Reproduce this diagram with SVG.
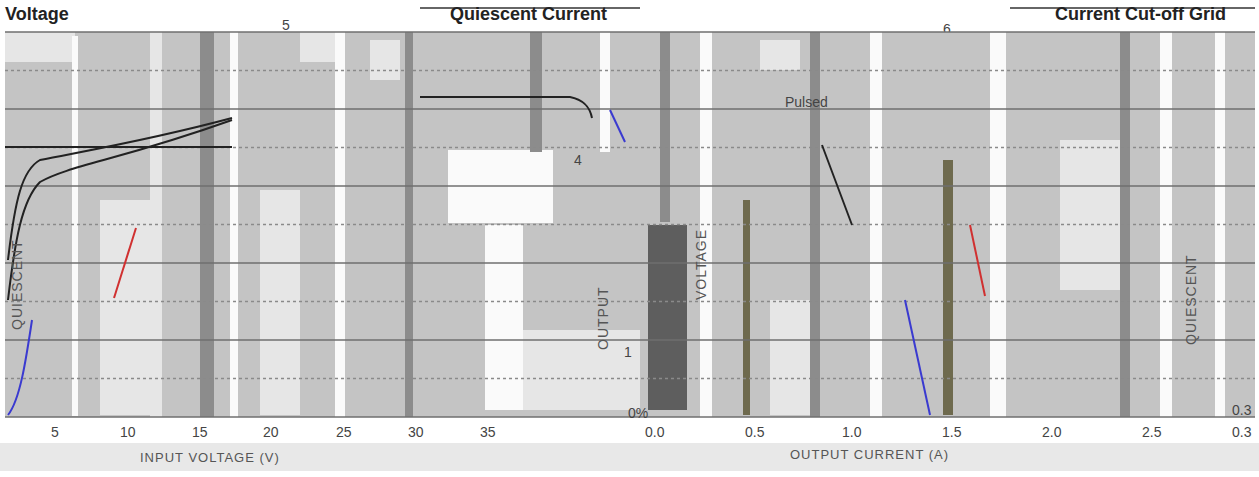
<svg xmlns="http://www.w3.org/2000/svg" width="1259" height="477" viewBox="0 0 1259 477">
<style>
.title{font:bold 18px "Liberation Sans",Arial,sans-serif;fill:#222}
.tick{font:14px "Liberation Sans",Arial,sans-serif;fill:#444}
.axis{font:13px "Liberation Sans",Arial,sans-serif;fill:#555;letter-spacing:1px}
.ylab{font:14px "Liberation Sans",Arial,sans-serif;fill:#555;letter-spacing:1px}
.gs{stroke:#6f6f6f;stroke-width:1.6}
.gd{stroke:#8a8a8a;stroke-width:1.4;stroke-dasharray:3 3}
.lt{fill:#e6e6e6}
.wh{fill:#fafafa}
.dk{fill:#8c8c8c}
.dd{fill:#5e5e5e}
.ol{fill:#6e6a4e}
.curve{fill:none;stroke-width:2}
</style>
<rect width="1259" height="477" fill="#fff"/>
<g id="titles">
<text class="title" x="5" y="20">Voltage</text>
<line x1="420" y1="8" x2="640" y2="8" stroke="#333" stroke-width="1.5"/>
<text class="title" x="450" y="20">Quiescent Current</text>
<line x1="1010" y1="8" x2="1255" y2="8" stroke="#333" stroke-width="1.5"/>
<text class="title" x="1055" y="20">Current Cut-off Grid</text>
<text class="tick" x="282" y="30">5</text>
<text class="tick" x="943" y="34">6</text>
</g>
<g id="plot-background">
<rect x="5" y="32" width="1250" height="385" fill="#c4c4c4"/>
<rect class="lt" x="5" y="32" width="70" height="30"/>
<rect class="wh" x="72" y="36" width="6" height="380"/>
<rect class="lt" x="100" y="200" width="50" height="215"/>
<rect class="lt" x="150" y="32" width="12" height="385"/>
<rect class="dk" x="200" y="32" width="14" height="385"/>
<rect class="wh" x="230" y="32" width="8" height="385"/>
<rect class="lt" x="260" y="190" width="40" height="225"/>
<rect class="lt" x="300" y="32" width="40" height="30"/>
<rect class="wh" x="335" y="32" width="10" height="385"/>
<rect class="lt" x="370" y="40" width="30" height="40"/>
<rect class="dk" x="405" y="32" width="8" height="385"/>
<rect class="wh" x="448" y="150" width="105" height="73"/>
<rect class="wh" x="485" y="225" width="38" height="185"/>
<rect class="lt" x="523" y="330" width="117" height="80"/>
<rect class="dk" x="530" y="32" width="12" height="120"/>
<rect class="wh" x="600" y="32" width="10" height="120"/>
<rect class="dd" x="648" y="225" width="39" height="185"/>
<rect class="dk" x="660" y="32" width="10" height="190"/>
<rect class="wh" x="700" y="32" width="12" height="385"/>
<rect class="ol" x="743" y="200" width="7" height="215"/>
<rect class="lt" x="760" y="40" width="40" height="30"/>
<rect class="lt" x="770" y="300" width="40" height="115"/>
<rect class="dk" x="810" y="32" width="10" height="385"/>
<rect class="wh" x="870" y="32" width="12" height="385"/>
<rect class="ol" x="943" y="160" width="10" height="255"/>
<rect class="wh" x="990" y="32" width="16" height="385"/>
<rect class="lt" x="1060" y="140" width="60" height="150"/>
<rect class="dk" x="1120" y="32" width="10" height="385"/>
<rect class="wh" x="1160" y="32" width="12" height="385"/>
<rect class="wh" x="1215" y="32" width="10" height="385"/>
</g>
<g id="grid">
<line class="gs" x1="5" y1="32" x2="1255" y2="32"/>
<line class="gd" x1="5" y1="70.5" x2="1255" y2="70.5"/>
<line class="gs" x1="5" y1="109" x2="1255" y2="109"/>
<line class="gd" x1="5" y1="147.5" x2="1255" y2="147.5"/>
<line class="gs" x1="5" y1="186" x2="1255" y2="186"/>
<line class="gd" x1="5" y1="224.5" x2="1255" y2="224.5"/>
<line class="gs" x1="5" y1="263" x2="1255" y2="263"/>
<line class="gd" x1="5" y1="301.5" x2="1255" y2="301.5"/>
<line class="gs" x1="5" y1="340" x2="1255" y2="340"/>
<line class="gd" x1="5" y1="378.5" x2="1255" y2="378.5"/>
<line class="gs" x1="5" y1="417" x2="1255" y2="417"/>
<line x1="5" y1="147" x2="232" y2="147" stroke="#222" stroke-width="2"/>
</g>
<g id="curves">
<path class="curve" stroke="#222" d="M8 300 C15 240 22 200 40 182 C70 165 120 160 232 120"/>
<path class="curve" stroke="#222" d="M8 260 C15 200 22 170 40 160 C90 150 150 140 232 118"/>
<path class="curve" stroke="#3a3ad0" d="M8 415 C20 400 26 360 32 320"/>
<path class="curve" stroke="#d03030" d="M114 298 L136 228"/>
<path class="curve" stroke="#222" d="M420 97 L570 97 C585 100 590 108 592 118"/>
<path class="curve" stroke="#3a3ad0" d="M610 110 L625 142"/>
<path class="curve" stroke="#222" d="M822 145 L852 225"/>
<path class="curve" stroke="#d03030" d="M970 225 L985 296"/>
<path class="curve" stroke="#3a3ad0" d="M905 300 L930 415"/>
</g>
<g id="labels">
<text class="ylab" transform="translate(22 330) rotate(-90)">QUIESCENT</text>
<text class="ylab" transform="translate(608 350) rotate(-90)">OUTPUT</text>
<text class="ylab" transform="translate(706 300) rotate(-90)">VOLTAGE</text>
<text class="ylab" transform="translate(1196 345) rotate(-90)">QUIESCENT</text>
<text class="tick" x="785" y="107">Pulsed</text>
<text class="tick" x="574" y="165">4</text>
<text class="tick" x="624" y="357">1</text>
<text class="tick" x="628" y="418">0%</text>
<text class="tick" x="1232" y="415">0.3</text>
</g>
<g id="axis-ticks">
<text class="tick" x="51" y="437">5</text>
<text class="tick" x="120" y="437">10</text>
<text class="tick" x="192" y="437">15</text>
<text class="tick" x="263" y="437">20</text>
<text class="tick" x="336" y="437">25</text>
<text class="tick" x="408" y="437">30</text>
<text class="tick" x="480" y="437">35</text>
<text class="tick" x="645" y="437">0.0</text>
<text class="tick" x="745" y="437">0.5</text>
<text class="tick" x="842" y="437">1.0</text>
<text class="tick" x="942" y="437">1.5</text>
<text class="tick" x="1042" y="437">2.0</text>
<text class="tick" x="1142" y="437">2.5</text>
<text class="tick" x="1232" y="437">0.3</text>
<rect x="0" y="443" width="1259" height="28" fill="#e8e8e8"/>
<text class="axis" x="140" y="462">INPUT VOLTAGE (V)</text>
<text class="axis" x="790" y="459">OUTPUT CURRENT (A)</text>
</g>
</svg>
